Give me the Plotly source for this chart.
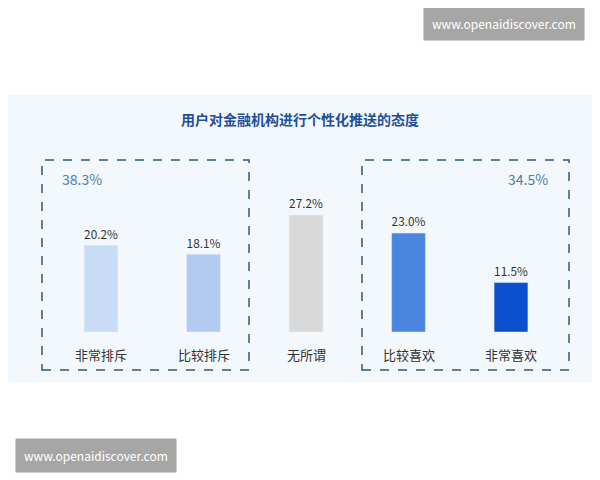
import plotly.graph_objects as go

categories = ["非常排斥", "比较排斥", "无所谓", "比较喜欢", "非常喜欢"]
values = [20.2, 18.1, 27.2, 23.0, 11.5]
colors = ["#c9dcf5", "#b4cbf1", "#d9d9d9", "#4a86e0", "#0a50cf"]
group_labels = ["38.3%", "34.5%"]

W, H = 600, 480
OFF = 8  # page body margin
FONT = "Noto Sans CJK SC"

def px(x):
    return (x - OFF) / W

def py(y):
    return 1 - (y - OFF) / H

xs = list(range(len(categories)))
fig = go.Figure()
fig.add_trace(go.Bar(
    x=xs, y=values, width=0.33, marker_color=colors,
    text=[f"{v:.1f}%" for v in values], textposition="outside",
    textfont=dict(size=13, color="#333333", family=FONT),
    cliponaxis=False, hoverinfo="skip"))

# panel background
fig.add_shape(type="rect", xref="paper", yref="paper", x0=-0.02, x1=1.02,
              y0=py(382), y1=py(95), fillcolor="#f3f8fd", line_width=0, layer="below")
# dashed group boxes
for x0, x1 in [(42, 249), (362, 569)]:
    fig.add_shape(type="rect", xref="paper", yref="paper", x0=px(x0), x1=px(x1),
                  y0=py(370), y1=py(160), line=dict(color="#2e5a78", width=1.5, dash="dash"))

ann = [
    dict(x=px(300), y=py(119), text="<b>用户对金融机构进行个性化推送的态度</b>",
         font=dict(size=14, color="#1f4e9a")),
    dict(x=px(82), y=py(179), text=group_labels[0], font=dict(size=14, color="#4f7ca8")),
    dict(x=px(528), y=py(179), text=group_labels[1], font=dict(size=14, color="#4f7ca8")),
    dict(x=px(504), y=py(24), text="www.openaidiscover.com", bgcolor="#a6a6a6",
         font=dict(size=12, color="white"), borderpad=8),
    dict(x=px(96), y=py(455), text="www.openaidiscover.com", bgcolor="#a6a6a6",
         font=dict(size=12, color="white"), borderpad=8),
]
for i, c in enumerate(categories):
    ann.append(dict(x=i, xref="x", y=py(354), text=c, font=dict(size=13, color="#333333")))
for a in ann:
    a.setdefault("xref", "paper")
    a.setdefault("yref", "paper")
    a["showarrow"] = False
    a["xanchor"] = "center"
    a["yanchor"] = "middle"
    a["font"]["family"] = FONT

x_first = 101 - OFF
base = 332 - OFF
fig.update_layout(
    width=W, height=H, margin=dict(l=0, r=0, t=0, b=0),
    paper_bgcolor="white", plot_bgcolor="rgba(0,0,0,0)",
    showlegend=False, annotations=ann,
    xaxis=dict(range=[-x_first / 102.5, (W - x_first) / 102.5], visible=False, domain=[0, 1]),
    yaxis=dict(range=[0, base / 4.3], visible=False, domain=[1 - base / H, 1]),
)
fig.write_html("out.html")
